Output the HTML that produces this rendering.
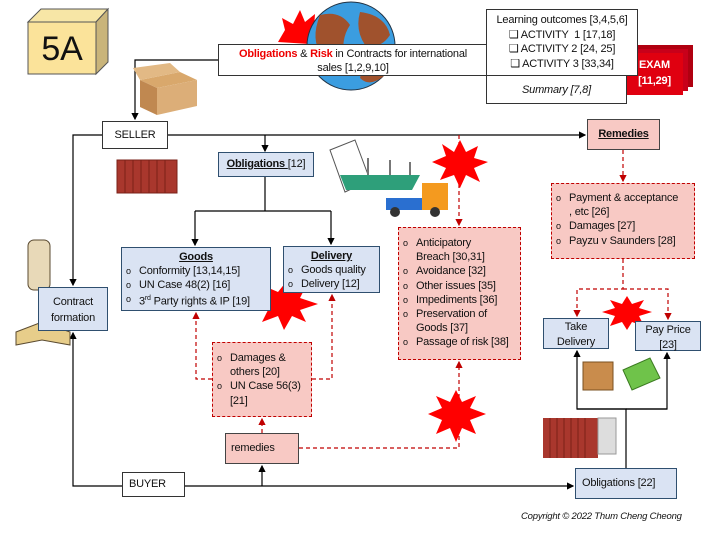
<!DOCTYPE html>
<html><head><meta charset="utf-8"><style>
*{margin:0;padding:0;box-sizing:border-box}
body{width:720px;height:540px;background:#fff;position:relative;overflow:hidden;font-family:"Liberation Sans",sans-serif;font-size:11px;color:#111;letter-spacing:-0.2px}
.b{position:absolute;border:1.3px solid #2f4f6f;}
.blue{background:#dae3f3;}
.pink{background:#f8c9c4;border:1.3px dashed #c00000}
.pinks{background:#f8c9c4;border:1.3px solid #444}
.w{background:#fff;border:1.2px solid #333}
.c{text-align:center}
ul{list-style:none}
li{padding-left:17px;position:relative;line-height:14.2px;white-space:nowrap}
li:before{content:"o";position:absolute;left:4px;top:0px;font-size:9px}
u{font-weight:bold}
</style></head><body>
<svg width="720" height="540" style="position:absolute;left:0;top:0">
<defs>
<marker id="a" markerWidth="6" markerHeight="6" refX="5" refY="3" orient="auto"><path d="M0,0L6,3L0,6z" fill="#000"/></marker>
<marker id="r" markerWidth="6" markerHeight="6" refX="5" refY="3" orient="auto"><path d="M0,0L6,3L0,6z" fill="#c00000"/></marker>
</defs>
<polygon points="28,22 41,9 108,9 96,22" fill="#f7e6a6" stroke="#555"/>
<polygon points="96,22 108,9 108,62 96,74" fill="#c9b47a" stroke="#555"/>
<rect x="28" y="22" width="68" height="52" fill="#fbe39a" stroke="#555"/>
<polygon points="278,42 285,30 282,18 293,24 300,10 305,22 315,14 314,28 330,22 322,35 338,40 325,45" fill="#f00"/>
<circle cx="351" cy="46" r="44" fill="#3b9de0" stroke="#234"/>
<path d="M320,15 Q340,10 350,25 Q340,40 345,60 Q330,70 322,55 Q310,40 320,15z" fill="#a0522d"/>
<path d="M360,12 Q385,15 390,35 Q380,50 365,45 Q355,30 360,12z" fill="#a0522d"/>
<path d="M365,60 Q385,55 385,75 Q370,88 360,78z" fill="#a0522d"/>
<g stroke="#000" stroke-width="1.2" fill="none">
<path d="M218,60H135V119" marker-end="url(#a)"/>
<path d="M168,135H585" marker-end="url(#a)"/>
<path d="M265,135V151" marker-end="url(#a)"/>
<path d="M102,135H73V285" marker-end="url(#a)"/>
<path d="M265,177V211M195,211H331"/>
<path d="M195,211V245" marker-end="url(#a)"/>
<path d="M331,211V244" marker-end="url(#a)"/>
<path d="M122,486H73V333" marker-end="url(#a)"/>
<path d="M185,486H573" marker-end="url(#a)"/>
<path d="M262,486V466" marker-end="url(#a)"/>
<path d="M626,468V409H577V351" marker-end="url(#a)"/>
<path d="M626,409H667V353" marker-end="url(#a)"/>
<path d="M577,409H667"/>
</g>
<g stroke="#c00000" stroke-width="1.2" fill="none" stroke-dasharray="4,3">
<path d="M459,135V225" marker-end="url(#r)"/>
<path d="M623,150V181" marker-end="url(#r)"/>
<path d="M623,259V289H577V316" marker-end="url(#r)"/>
<path d="M623,289H668V319" marker-end="url(#r)"/>
<path d="M212,379H196V313" marker-end="url(#r)"/>
<path d="M312,379H332V295" marker-end="url(#r)"/>
<path d="M262,433V419" marker-end="url(#r)"/>
<path d="M299,448H459V362" marker-end="url(#r)"/>
</g>
<polygon points="460,140 466,152 478,146 474,158 488,162 474,168 480,182 466,175 460,188 454,175 440,180 446,168 432,162 446,156 442,144 454,152" fill="#f00"/>
<polygon points="286,282 292,292 306,286 300,298 318,304 300,310 306,322 292,316 284,330 278,316 262,322 268,310 254,304 268,298 264,286 278,292" fill="#f00"/>
<polygon points="456,390 462,402 476,396 470,408 486,414 470,420 476,434 462,428 456,442 450,428 436,434 442,420 428,414 442,408 436,396 450,402" fill="#f00"/>
<polygon points="627,296 632,304 644,300 639,308 652,312 639,316 644,326 632,322 627,330 622,322 610,326 615,316 602,312 615,308 610,300 622,304" fill="#f00"/>
<rect x="636" y="45" width="57" height="42" fill="#b00010"/>
<rect x="631" y="49" width="57" height="42" fill="#c8001a"/>
<rect x="626" y="53" width="57" height="42" fill="#e00010"/>
<polygon points="140,80 180,72 197,80 157,88" fill="#d9a86c"/>
<polygon points="140,80 157,88 157,115 140,107" fill="#c08850"/>
<polygon points="157,88 197,80 197,106 157,115" fill="#dcae78"/>
<polygon points="140,80 133,68 170,63 180,72" fill="#e2b985"/>
<rect x="117" y="160" width="60" height="33" fill="#a9372d" stroke="#7a2018"/>
<g stroke="#7a2018"><path d="M125,160V193M133,160V193M141,160V193M149,160V193M157,160V193M165,160V193"/></g>
<rect x="543" y="418" width="55" height="40" fill="#a9372d"/>
<g stroke="#7a2018"><path d="M550,418V458M557,418V458M564,418V458M571,418V458M578,418V458M585,418V458"/></g>
<rect x="598" y="418" width="18" height="36" fill="#ddd" stroke="#999"/>
<polygon points="330,150 355,140 370,180 345,192" fill="#fff" stroke="#555"/>
<polygon points="340,175 420,175 412,190 346,190" fill="#2e9f7a"/>
<path d="M368,175V158M390,175V160M410,175V162" stroke="#777" stroke-width="2"/>
<rect x="386" y="198" width="36" height="12" fill="#2a6fd0"/>
<rect x="422" y="183" width="26" height="27" fill="#f49a1f"/>
<circle cx="395" cy="212" r="5" fill="#333"/><circle cx="435" cy="212" r="5" fill="#333"/>
<rect x="28" y="240" width="22" height="50" rx="6" fill="#e8d9b8" stroke="#5a4a30"/>
<polygon points="16,332 42,322 70,332 70,345 42,340 16,345" fill="#e7cd8a" stroke="#5a4a30"/>
<rect x="583" y="362" width="30" height="28" fill="#c98c4c" stroke="#7a5020"/>
<polygon points="623,370 650,358 660,378 632,390" fill="#6fc34a" stroke="#3a7a20"/>
</svg>

<div style="position:absolute;left:28px;top:30px;width:68px;text-align:center;font-size:34px">5A</div>
<div class="b w c" style="left:218px;top:44px;width:270px;height:32px;padding-top:2px;line-height:14px;white-space:nowrap"><b style="color:#e00">Obligations</b> &amp; <b style="color:#e00">Risk</b> in Contracts for international<br>sales [1,2,9,10]</div>
<div class="b w c" style="left:486px;top:9px;width:152px;height:67px;padding-top:3px;line-height:14.5px">Learning outcomes [3,4,5,6]<br>❑ ACTIVITY &nbsp;1 [17,18]<br>❑ ACTIVITY 2 [24, 25]<br>❑ ACTIVITY 3 [33,34]</div>
<div class="b w c" style="left:486px;top:75px;width:141px;height:29px;padding-top:8px;font-style:italic">Summary [7,8]</div>
<div style="position:absolute;left:626px;top:57px;width:57px;text-align:center;color:#fff;font-weight:bold;line-height:16px">EXAM<br>[11,29]</div>
<div class="b w c" style="left:102px;top:121px;width:66px;height:28px;padding-top:7px">SELLER</div>
<div class="b pinks c" style="left:587px;top:119px;width:73px;height:31px;padding-top:8px"><u>Remedies</u></div>
<div class="b blue c" style="left:218px;top:152px;width:96px;height:25px;padding-top:5px"><u>Obligations </u>[12]</div>
<div class="b blue c" style="left:38px;top:287px;width:70px;height:44px;padding-top:6px;line-height:16px">Contract formation</div>
<div class="b blue" style="left:121px;top:247px;width:150px;height:64px;padding-top:2px"><div class="c" style="line-height:14px"><u>Goods</u></div><ul><li>Conformity [13,14,15]</li><li>UN Case 48(2) [16]</li><li>3<sup style="font-size:7px">rd</sup> Party rights &amp; IP [19]</li></ul></div>
<div class="b blue" style="left:283px;top:246px;width:97px;height:47px;padding-top:2px"><div class="c" style="line-height:14px"><u>Delivery</u></div><ul><li>Goods quality</li><li>Delivery [12]</li></ul></div>
<div class="b pink" style="left:398px;top:227px;width:123px;height:133px;padding-top:8px"><ul><li>Anticipatory<br>Breach [30,31]</li><li>Avoidance [32]</li><li>Other issues [35]</li><li>Impediments [36]</li><li>Preservation of<br>Goods [37]</li><li>Passage of risk [38]</li></ul></div>
<div class="b pink" style="left:551px;top:183px;width:144px;height:76px;padding-top:7px"><ul><li>Payment &amp; acceptance<br>, etc [26]</li><li>Damages [27]</li><li>Payzu v Saunders [28]</li></ul></div>
<div class="b blue c" style="left:543px;top:318px;width:66px;height:31px;padding-top:1px;line-height:15px">Take<br>Delivery</div>
<div class="b blue c" style="left:635px;top:321px;width:66px;height:30px;padding-top:1px;line-height:15px">Pay Price<br>[23]</div>
<div class="b pink" style="left:212px;top:342px;width:100px;height:75px;padding-top:8px"><ul><li>Damages &amp;<br>others [20]</li><li>UN Case 56(3)<br>[21]</li></ul></div>
<div class="b pinks" style="left:225px;top:433px;width:74px;height:31px;padding:8px 0 0 5px">remedies</div>
<div class="b w" style="left:122px;top:472px;width:63px;height:25px;padding:5px 0 0 6px">BUYER</div>
<div class="b blue" style="left:575px;top:468px;width:102px;height:31px;padding:8px 0 0 6px">Obligations [22]</div>
<div style="position:absolute;left:521px;top:511px;font-size:9.5px;font-style:italic">Copyright © 2022 Thum Cheng Cheong</div>
</body></html>
